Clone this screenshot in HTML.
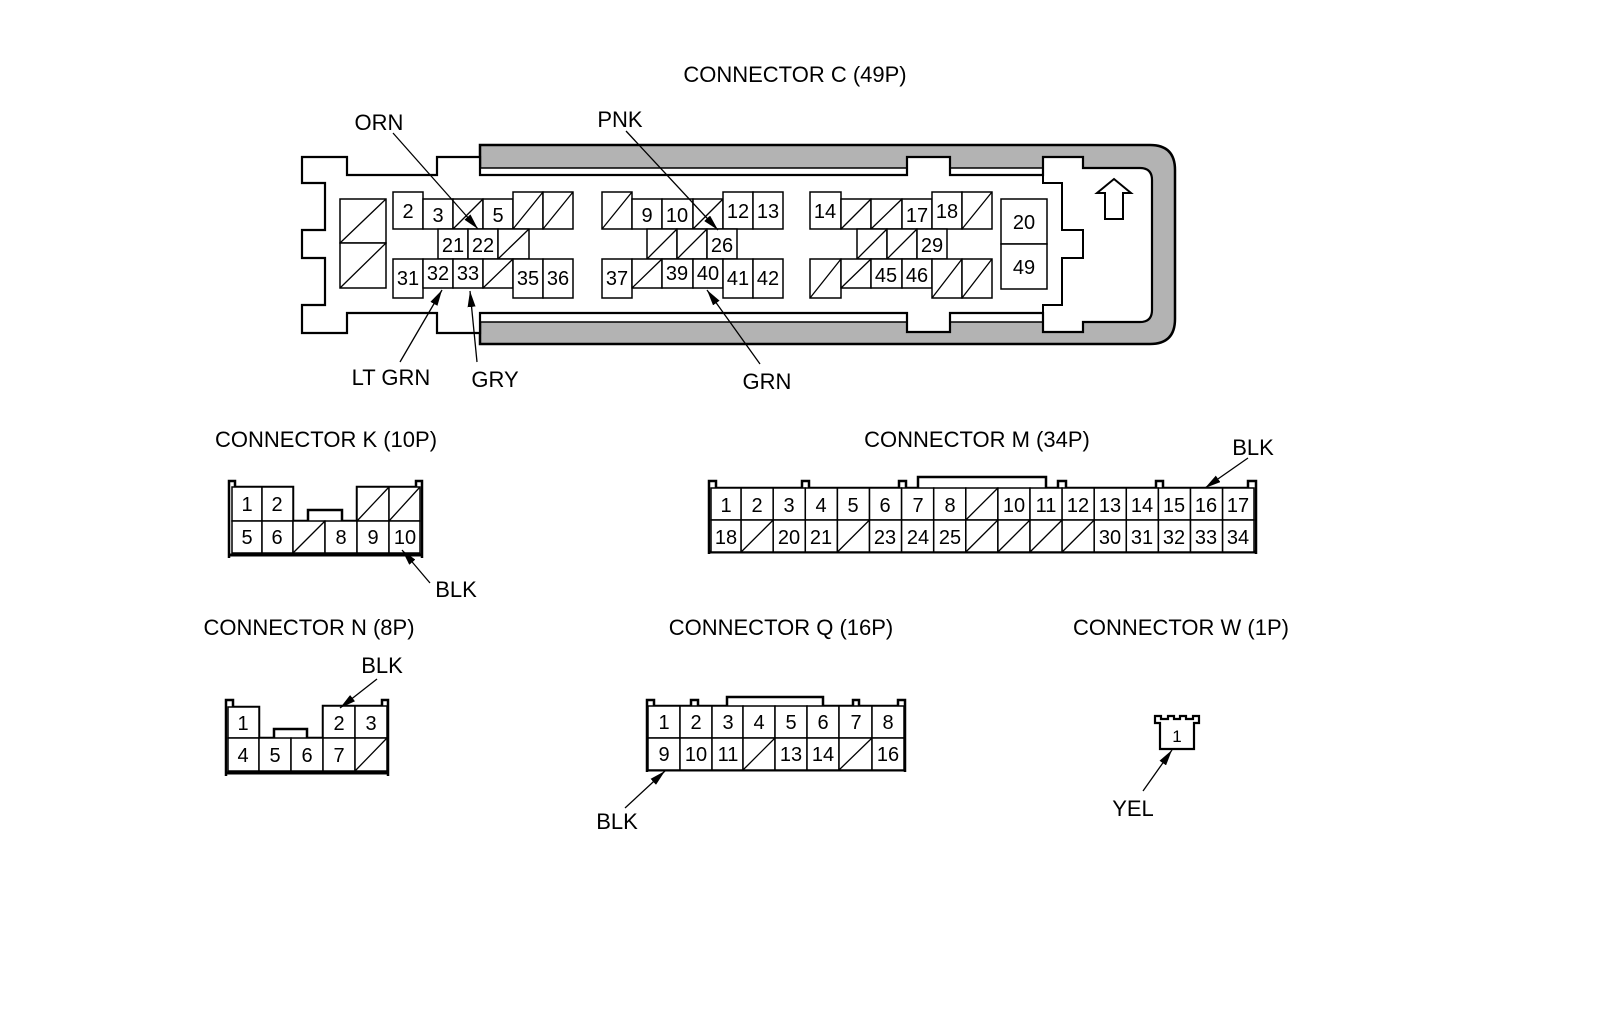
<!DOCTYPE html>
<html><head><meta charset="utf-8"><style>
html,body{margin:0;padding:0;background:#fff;}
svg{display:block;}
text{font-family:"Liberation Sans",Arial,sans-serif;fill:#000;}
.t{font-size:22px;text-anchor:middle;}
.n{font-size:20px;text-anchor:middle;}
.c rect{fill:#fff;stroke:#000;stroke-width:1.5;}
.c line{stroke:#000;stroke-width:1.3;}
.ld{stroke:#000;stroke-width:1.3;fill:none;marker-end:url(#ah);}
</style></head><body>
<svg width="1600" height="1012" viewBox="0 0 1600 1012" xmlns="http://www.w3.org/2000/svg">
<defs><marker id="ah" viewBox="0 0 20 10" refX="20" refY="5" markerWidth="16" markerHeight="8" markerUnits="userSpaceOnUse" orient="auto"><path d="M0,0 L20,5 L0,10 Z" fill="#000"/></marker></defs>

<!-- CONNECTOR C -->
<text class="t" x="795" y="82">CONNECTOR C (49P)</text>
<path d="M480,145 H1150 Q1175,145 1175,170 V319 Q1175,344 1150,344 H480 Z" fill="#b3b3b3" stroke="#000" stroke-width="2.5"/>
<path d="M480,168 H1140 Q1152,168 1152,180 V310 Q1152,322 1140,322 H480 Z" fill="#fff" stroke="#000" stroke-width="1.5"/>
<path d="M302,157 H347 V175 H437 V157 H480 V175 H907 V157 H950 V175 H1043 V157 H1083 V168 H1140 Q1152,168 1152,180 V310 Q1152,322 1140,322 H1083 V332 H1043 V313 H950 V332 H907 V313 H480 V333 H437 V313 H347 V333 H302 V305 H325 V258 H302 V230 H325 V183 H302 Z" fill="#fff" stroke="#000" stroke-width="2.2"/>
<polyline points="1043,175 1043,183 1062,183 1062,230 1083,230 1083,258 1062,258 1062,305 1043,305 1043,313" fill="none" stroke="#000" stroke-width="2"/>
<polygon points="1114,179 1131,193 1123,193 1123,219 1105,219 1105,193 1097,193" fill="#fff" stroke="#000" stroke-width="2"/>

<g class="c">
<rect x="340" y="199" width="46" height="44"/><line x1="340" y1="243" x2="386" y2="199"/>
<rect x="340" y="243" width="46" height="45"/><line x1="340" y1="288" x2="386" y2="243"/>
<rect x="393" y="192" width="30" height="37"/>
<rect x="423" y="199" width="30" height="30"/>
<rect x="453" y="199" width="30" height="30"/><line x1="453" y1="229" x2="483" y2="199"/>
<rect x="483" y="199" width="30" height="30"/>
<rect x="513" y="192" width="30" height="37"/><line x1="513" y1="229" x2="543" y2="192"/>
<rect x="543" y="192" width="30" height="37"/><line x1="543" y1="229" x2="573" y2="192"/>
<rect x="438" y="229" width="30" height="30"/>
<rect x="468" y="229" width="30" height="30"/>
<rect x="498" y="229" width="31" height="30"/><line x1="498" y1="259" x2="529" y2="229"/>
<rect x="393" y="259" width="30" height="39"/>
<rect x="423" y="259" width="30" height="29"/>
<rect x="453" y="259" width="30" height="29"/>
<rect x="483" y="259" width="30" height="29"/><line x1="483" y1="288" x2="513" y2="259"/>
<rect x="513" y="259" width="30" height="39"/>
<rect x="543" y="259" width="30" height="39"/>

<rect x="602" y="192" width="30" height="37"/><line x1="602" y1="229" x2="632" y2="192"/>
<rect x="632" y="199" width="30" height="30"/>
<rect x="662" y="199" width="31" height="30"/>
<rect x="693" y="199" width="30" height="30"/><line x1="693" y1="229" x2="723" y2="199"/>
<rect x="723" y="192" width="30" height="37"/>
<rect x="753" y="192" width="30" height="37"/>
<rect x="647" y="229" width="30" height="30"/><line x1="647" y1="259" x2="677" y2="229"/>
<rect x="677" y="229" width="30" height="30"/><line x1="677" y1="259" x2="707" y2="229"/>
<rect x="707" y="229" width="30" height="30"/>
<rect x="602" y="259" width="30" height="39"/>
<rect x="632" y="259" width="30" height="29"/><line x1="632" y1="288" x2="662" y2="259"/>
<rect x="662" y="259" width="31" height="29"/>
<rect x="693" y="259" width="30" height="29"/>
<rect x="723" y="259" width="30" height="39"/>
<rect x="753" y="259" width="30" height="39"/>

<rect x="810" y="192" width="31" height="37"/>
<rect x="841" y="199" width="30" height="30"/><line x1="841" y1="229" x2="871" y2="199"/>
<rect x="871" y="199" width="31" height="30"/><line x1="871" y1="229" x2="902" y2="199"/>
<rect x="902" y="199" width="30" height="30"/>
<rect x="932" y="192" width="30" height="37"/>
<rect x="962" y="192" width="30" height="37"/><line x1="962" y1="229" x2="992" y2="192"/>
<rect x="857" y="229" width="30" height="30"/><line x1="857" y1="259" x2="887" y2="229"/>
<rect x="887" y="229" width="30" height="30"/><line x1="887" y1="259" x2="917" y2="229"/>
<rect x="917" y="229" width="30" height="30"/>
<rect x="810" y="259" width="31" height="39"/><line x1="810" y1="298" x2="841" y2="259"/>
<rect x="841" y="259" width="30" height="29"/><line x1="841" y1="288" x2="871" y2="259"/>
<rect x="871" y="259" width="31" height="29"/>
<rect x="902" y="259" width="30" height="29"/>
<rect x="932" y="259" width="30" height="39"/><line x1="932" y1="298" x2="962" y2="259"/>
<rect x="962" y="259" width="30" height="39"/><line x1="962" y1="298" x2="992" y2="259"/>
<rect x="1001" y="199" width="46" height="45"/>
<rect x="1001" y="244" width="46" height="45"/>
</g>
<g class="n">
<text x="408" y="218">2</text><text x="438" y="222">3</text><text x="498" y="222">5</text>
<text x="453" y="252">21</text><text x="483" y="252">22</text>
<text x="408" y="285">31</text><text x="438" y="280">32</text><text x="468" y="280">33</text><text x="528" y="285">35</text><text x="558" y="285">36</text>
<text x="647" y="222">9</text><text x="677" y="222">10</text><text x="738" y="218">12</text><text x="768" y="218">13</text>
<text x="722" y="252">26</text>
<text x="617" y="285">37</text><text x="677" y="280">39</text><text x="708" y="280">40</text><text x="738" y="285">41</text><text x="768" y="285">42</text>
<text x="825" y="218">14</text><text x="917" y="222">17</text><text x="947" y="218">18</text>
<text x="932" y="252">29</text>
<text x="886" y="282">45</text><text x="917" y="282">46</text>
<text x="1024" y="229">20</text><text x="1024" y="274">49</text>
</g>
<text class="t" x="379" y="130">ORN</text>
<line class="ld" x1="393" y1="133" x2="478" y2="229"/>
<text class="t" x="620" y="127">PNK</text>
<line class="ld" x1="626" y1="131" x2="718" y2="230"/>
<text class="t" x="391" y="385">LT GRN</text>
<line class="ld" x1="400" y1="362" x2="442" y2="290"/>
<text class="t" x="495" y="387">GRY</text>
<line class="ld" x1="477" y1="362" x2="470" y2="291"/>
<text class="t" x="767" y="389">GRN</text>
<line class="ld" x1="760" y1="364" x2="707" y2="290"/>

<!-- CONNECTOR K -->
<text class="t" x="326" y="447">CONNECTOR K (10P)</text>
<path d="M229,558 V481 H235 V487 H293 V521 H308 V510 H342 V521 H357 V487 H416 V481 H422 V558" fill="none" stroke="#000" stroke-width="2.5"/>
<line x1="229" y1="555" x2="422" y2="555" stroke="#000" stroke-width="3"/>
<g class="c">
<rect x="232" y="487" width="30" height="34"/><rect x="262" y="487" width="31" height="34"/>
<rect x="357" y="487" width="32" height="34"/><line x1="357" y1="521" x2="389" y2="487"/>
<rect x="389" y="487" width="31" height="34"/><line x1="389" y1="521" x2="420" y2="487"/>
<rect x="232" y="521" width="30" height="32"/><rect x="262" y="521" width="31" height="32"/>
<rect x="293" y="521" width="32" height="32"/><line x1="293" y1="553" x2="325" y2="521"/>
<rect x="325" y="521" width="32" height="32"/><rect x="357" y="521" width="32" height="32"/><rect x="389" y="521" width="31" height="32"/>
</g>
<g class="n">
<text x="247" y="511">1</text><text x="277" y="511">2</text>
<text x="247" y="544">5</text><text x="277" y="544">6</text><text x="341" y="544">8</text><text x="373" y="544">9</text><text x="405" y="544">10</text>
</g>
<text class="t" x="456" y="597">BLK</text>
<line class="ld" x1="430" y1="583" x2="402" y2="550"/>

<!-- CONNECTOR M -->
<text class="t" x="977" y="447">CONNECTOR M (34P)</text>
<path d="M709,554 V481 H716 V488 H802 V481 H809 V488 H899 V481 H906 V488 H918 V477 H1046 V488 H1058 V481 H1066 V488 H1156 V481 H1163 V488 H1248 V481 H1256 V554" fill="none" stroke="#000" stroke-width="2.5"/>
<line x1="709" y1="552" x2="1256" y2="552" stroke="#000" stroke-width="3"/>
<g class="c">
<rect x="711" y="488" width="30.1" height="32"/><rect x="741.1" y="488" width="32.1" height="32"/><rect x="773.2" y="488" width="32.1" height="32"/><rect x="805.3" y="488" width="32.1" height="32"/><rect x="837.4" y="488" width="32.1" height="32"/><rect x="869.5" y="488" width="32.1" height="32"/><rect x="901.6" y="488" width="32.1" height="32"/><rect x="933.7" y="488" width="32.1" height="32"/>
<rect x="965.8" y="488" width="32.1" height="32"/><line x1="965.8" y1="520" x2="997.9" y2="488"/>
<rect x="997.9" y="488" width="32.1" height="32"/><rect x="1030" y="488" width="32.1" height="32"/><rect x="1062.1" y="488" width="32.1" height="32"/><rect x="1094.2" y="488" width="32.1" height="32"/><rect x="1126.3" y="488" width="32.1" height="32"/><rect x="1158.4" y="488" width="32.1" height="32"/><rect x="1190.5" y="488" width="32.1" height="32"/><rect x="1222.6" y="488" width="31.4" height="32"/>
<rect x="711" y="520" width="30.1" height="32"/>
<rect x="741.1" y="520" width="32.1" height="32"/><line x1="741.1" y1="552" x2="773.2" y2="520"/>
<rect x="773.2" y="520" width="32.1" height="32"/><rect x="805.3" y="520" width="32.1" height="32"/>
<rect x="837.4" y="520" width="32.1" height="32"/><line x1="837.4" y1="552" x2="869.5" y2="520"/>
<rect x="869.5" y="520" width="32.1" height="32"/><rect x="901.6" y="520" width="32.1" height="32"/><rect x="933.7" y="520" width="32.1" height="32"/>
<rect x="965.8" y="520" width="32.1" height="32"/><line x1="965.8" y1="552" x2="997.9" y2="520"/>
<rect x="997.9" y="520" width="32.1" height="32"/><line x1="997.9" y1="552" x2="1030" y2="520"/>
<rect x="1030" y="520" width="32.1" height="32"/><line x1="1030" y1="552" x2="1062.1" y2="520"/>
<rect x="1062.1" y="520" width="32.1" height="32"/><line x1="1062.1" y1="552" x2="1094.2" y2="520"/>
<rect x="1094.2" y="520" width="32.1" height="32"/><rect x="1126.3" y="520" width="32.1" height="32"/><rect x="1158.4" y="520" width="32.1" height="32"/><rect x="1190.5" y="520" width="32.1" height="32"/><rect x="1222.6" y="520" width="31.4" height="32"/>
</g>
<g class="n">
<text x="726" y="512">1</text><text x="757" y="512">2</text><text x="789" y="512">3</text><text x="821" y="512">4</text><text x="853" y="512">5</text><text x="885" y="512">6</text><text x="918" y="512">7</text><text x="950" y="512">8</text>
<text x="1014" y="512">10</text><text x="1046" y="512">11</text><text x="1078" y="512">12</text><text x="1110" y="512">13</text><text x="1142" y="512">14</text><text x="1174" y="512">15</text><text x="1206" y="512">16</text><text x="1238" y="512">17</text>
<text x="726" y="544">18</text><text x="789" y="544">20</text><text x="821" y="544">21</text><text x="885" y="544">23</text><text x="918" y="544">24</text><text x="950" y="544">25</text>
<text x="1110" y="544">30</text><text x="1142" y="544">31</text><text x="1174" y="544">32</text><text x="1206" y="544">33</text><text x="1238" y="544">34</text>
</g>
<text class="t" x="1253" y="455">BLK</text>
<line class="ld" x1="1248" y1="458" x2="1205" y2="488"/>

<!-- CONNECTOR N -->
<text class="t" x="309" y="635">CONNECTOR N (8P)</text>
<path d="M226,776 V700 H233 V707 H259 V738 H274 V729 H307 V738 H323 V706 H382 V700 H388 V776" fill="none" stroke="#000" stroke-width="2.5"/>
<line x1="226" y1="773" x2="388" y2="773" stroke="#000" stroke-width="3"/>
<g class="c">
<rect x="228" y="707" width="31" height="31"/>
<rect x="323" y="706" width="32" height="32"/><rect x="355" y="706" width="32" height="32"/>
<rect x="228" y="738" width="31" height="33"/><rect x="259" y="738" width="32" height="33"/><rect x="291" y="738" width="32" height="33"/><rect x="323" y="738" width="32" height="33"/>
<rect x="355" y="738" width="32" height="33"/><line x1="355" y1="771" x2="387" y2="738"/>
</g>
<g class="n">
<text x="243" y="730">1</text><text x="339" y="730">2</text><text x="371" y="730">3</text>
<text x="243" y="762">4</text><text x="275" y="762">5</text><text x="307" y="762">6</text><text x="339" y="762">7</text>
</g>
<text class="t" x="382" y="673">BLK</text>
<line class="ld" x1="377" y1="679" x2="340" y2="708"/>

<!-- CONNECTOR Q -->
<text class="t" x="781" y="635">CONNECTOR Q (16P)</text>
<path d="M647,772 V700 H654 V706 H691 V700 H698 V706 H727 V697 H823 V706 H853 V700 H859 V706 H898 V700 H905 V772" fill="none" stroke="#000" stroke-width="2.5"/>
<line x1="647" y1="770" x2="905" y2="770" stroke="#000" stroke-width="3"/>
<g class="c">
<rect x="648" y="706" width="32" height="32"/><rect x="680" y="706" width="32" height="32"/><rect x="712" y="706" width="31" height="32"/><rect x="743" y="706" width="32" height="32"/><rect x="775" y="706" width="32" height="32"/><rect x="807" y="706" width="32" height="32"/><rect x="839" y="706" width="33" height="32"/><rect x="872" y="706" width="32" height="32"/>
<rect x="648" y="738" width="32" height="32"/><rect x="680" y="738" width="32" height="32"/><rect x="712" y="738" width="31" height="32"/>
<rect x="743" y="738" width="32" height="32"/><line x1="743" y1="770" x2="775" y2="738"/>
<rect x="775" y="738" width="32" height="32"/><rect x="807" y="738" width="32" height="32"/>
<rect x="839" y="738" width="33" height="32"/><line x1="839" y1="770" x2="872" y2="738"/>
<rect x="872" y="738" width="32" height="32"/>
</g>
<g class="n">
<text x="664" y="729">1</text><text x="696" y="729">2</text><text x="728" y="729">3</text><text x="759" y="729">4</text><text x="791" y="729">5</text><text x="823" y="729">6</text><text x="856" y="729">7</text><text x="888" y="729">8</text>
<text x="664" y="761">9</text><text x="696" y="761">10</text><text x="728" y="761">11</text><text x="791" y="761">13</text><text x="823" y="761">14</text><text x="888" y="761">16</text>
</g>
<text class="t" x="617" y="829">BLK</text>
<line class="ld" x1="625" y1="808" x2="665" y2="771"/>

<!-- CONNECTOR W -->
<text class="t" x="1181" y="635">CONNECTOR W (1P)</text>
<path d="M1160,749 V723 H1155 V716 H1161 V719 H1168 V716 H1174 V719 H1180 V716 H1186 V719 H1193 V716 H1199 V723 H1194 V749 Z" fill="#fff" stroke="#000" stroke-width="2.2"/>
<text x="1177" y="742" style="font-size:17px;text-anchor:middle">1</text>
<text class="t" x="1133" y="816">YEL</text>
<line class="ld" x1="1143" y1="791" x2="1172" y2="750"/>
</svg>
</body></html>
